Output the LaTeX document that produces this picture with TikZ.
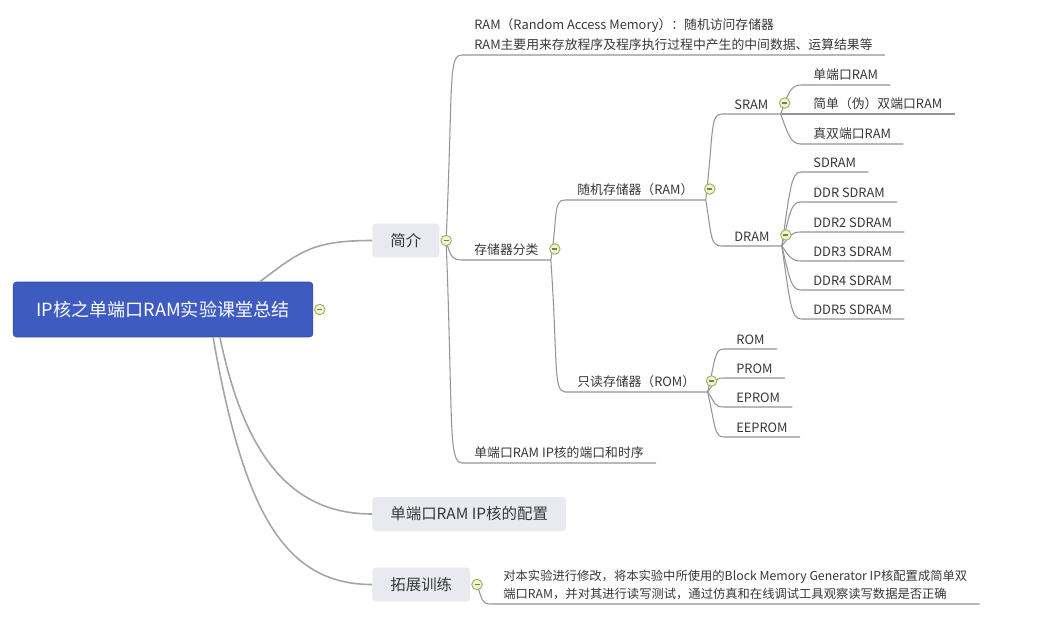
\documentclass[tikz,border=0pt]{standalone}
\usepackage{fontspec}
\setmainfont{Noto Sans CJK SC}
\usetikzlibrary{positioning}

\definecolor{rootblue}{HTML}{3D5BC0}
\definecolor{boxgray}{HTML}{E8EAF0}
\definecolor{linegray}{HTML}{959595}
\definecolor{textgray}{HTML}{383838}
\definecolor{foldline}{HTML}{9EAE55}
\definecolor{foldfill}{HTML}{EEF3D6}

\begin{document}
\begin{tikzpicture}[x=0.02cm, y=-0.02cm,
            root/.style = {rectangle, rounded corners=2pt,
                fill=rootblue, draw=rootblue!85!black, line width=0.3pt,
                text=white, minimum width=6cm, minimum height=1.1cm,
                font=\fontsize{10.3}{12}\selectfont},
            topic/.style = {rectangle, rounded corners=2pt,
                fill=boxgray, text=textgray, anchor=west,
                minimum height=0.68cm, inner xsep=0.36cm,
                font=\fontsize{8.8}{10}\selectfont},
            leaf/.style = {anchor=south west, inner xsep=0.24cm,
                inner ysep=0.08cm, text=textgray, align=left,
                font=\fontsize{7.3}{11.3}\selectfont},
            branch/.style = {draw=linegray, line width=0.6pt},
            stem/.style = {draw=linegray!85, line width=0.9pt},
            fold/.style = {circle, draw=foldline, fill=foldfill,
                line width=0.5pt, minimum size=0.21cm, inner sep=0pt,
                path picture={\draw[foldline!75!black, line width=0.6pt]
                    ([xshift=-1.4pt]path picture bounding box.center) --
                    ([xshift=1.4pt]path picture bounding box.center);}}]
        
        % Background
        \fill[white] (0,0) rectangle (1048,622);
        \useasboundingbox (0,0) rectangle (1048,622);
        
        % Root and topics
        \node[root] (root) at (163,309.5) {IP核之单端口RAM实验课堂总结};
        \node[topic] (intro) at (372,240.5) {简介};
        \node[topic] (config) at (372,514) {单端口RAM IP核的配置};
        \node[topic] (train) at (372,584.5) {拓展训练};
        
        % Intro branch
        \node[leaf] (ramdesc) at (462,55) {RAM（Random Access Memory）：随机访问存储器\\RAM主要用来存放程序及程序执行过程中产生的中间数据、运算结果等};
        \node[leaf] (memcls) at (462,260) {存储器分类};
        \node[leaf] (portdoc) at (462,463) {单端口RAM IP核的端口和时序};
        
        % Memory classes
        \node[leaf] (ramcls) at (565,200) {随机存储器（RAM）};
        \node[leaf] (romcls) at (565,392) {只读存储器（ROM）};
        \node[leaf] (sram) at (722,114) {SRAM};
        \node[leaf] (dram) at (722,246) {DRAM};
        
        % SRAM kinds
        \node[leaf] (sp) at (801,85) {单端口RAM};
        \node[leaf] (sdp) at (801,114) {简单（伪）双端口RAM};
        \node[leaf] (tdp) at (801,144) {真双端口RAM};
        
        % DRAM kinds
        \node[leaf] (sdram) at (801,172) {SDRAM};
        \node[leaf] (ddr) at (801,202) {DDR SDRAM};
        \node[leaf] (ddrtwo) at (801,232) {DDR2 SDRAM};
        \node[leaf] (ddrthree) at (801,261) {DDR3 SDRAM};
        \node[leaf] (ddrfour) at (801,290) {DDR4 SDRAM};
        \node[leaf] (ddrfive) at (801,319) {DDR5 SDRAM};
        
        % ROM kinds
        \node[leaf] (rom) at (724,349) {ROM};
        \node[leaf] (prom) at (724,378) {PROM};
        \node[leaf] (eprom) at (724,407) {EPROM};
        \node[leaf] (eeprom) at (724,437) {EEPROM};
        
        % Training task
        \node[leaf, font=\fontsize{7}{10.2}\selectfont] (traindesc) at (491,604) {对本实验进行修改，将本实验中所使用的Block Memory Generator IP核配置成简单双\\端口RAM，并对其进行读写测试，通过仿真和在线调试工具观察读写数据是否正确};
        
        % Fold points
        \coordinate[right=0.13cm of root] (f-root);
        \coordinate[right=0.13cm of intro] (f-intro);
        \coordinate[right=0.13cm of train] (f-train);
        
        % Root connectors
        \draw[stem] (root.16) .. controls +(40,-30) and +(-60,0) .. (intro.west);
        \draw[stem] (root.-26) .. controls +(25,120) and +(-80,0) .. (config.west);
        \draw[stem] (root.-29) .. controls +(30,170) and +(-90,0) .. (train.west);
        
        % Intro connectors
        \draw[branch] (f-intro) .. controls +(7,-160) and +(-14,0) .. (ramdesc.south west) -- (ramdesc.south east);
        \draw[branch] (f-intro) .. controls +(4,15) and +(-10,0) .. (memcls.south west) -- (memcls.south east);
        \draw[branch] (f-intro) .. controls +(7,180) and +(-14,0) .. (portdoc.south west) -- (portdoc.south east);
        
        % Memory class connectors
        \draw[branch] (memcls.south east) .. controls +(7,-45) and +(-12,0) .. (ramcls.south west) -- (ramcls.south east);
        \draw[branch] (memcls.south east) .. controls +(7,100) and +(-12,0) .. (romcls.south west) -- (romcls.south east);
        \draw[branch] (ramcls.south east) .. controls +(8,-70) and +(-12,0) .. (sram.south west) -- (sram.south east);
        \draw[branch] (ramcls.south east) .. controls +(6,36) and +(-12,0) .. (dram.south west) -- (dram.south east);
        
        % SRAM connectors
        \draw[branch] (sram.south east) .. controls +(8,-22) and +(-10,0) .. (sp.south west) -- (sp.south east);
        \draw[branch] (sram.south east) -- (sdp.south west) -- (sdp.south east);
        \draw[branch] (sram.south east) .. controls +(8,22) and +(-10,0) .. (tdp.south west) -- (tdp.south east);
        
        % DRAM connectors
        \draw[branch] (dram.south east) .. controls +(8,-55) and +(-10,0) .. (sdram.south west) -- (sdram.south east);
        \draw[branch] (dram.south east) .. controls +(8,-33) and +(-10,0) .. (ddr.south west) -- (ddr.south east);
        \draw[branch] (dram.south east) .. controls +(8,-10) and +(-10,0) .. (ddrtwo.south west) -- (ddrtwo.south east);
        \draw[branch] (dram.south east) .. controls +(8,11) and +(-10,0) .. (ddrthree.south west) -- (ddrthree.south east);
        \draw[branch] (dram.south east) .. controls +(8,33) and +(-10,0) .. (ddrfour.south west) -- (ddrfour.south east);
        \draw[branch] (dram.south east) .. controls +(8,55) and +(-10,0) .. (ddrfive.south west) -- (ddrfive.south east);
        
        % ROM connectors
        \draw[branch] (romcls.south east) .. controls +(8,-32) and +(-10,0) .. (rom.south west) -- (rom.south east);
        \draw[branch] (romcls.south east) .. controls +(8,-10) and +(-10,0) .. (prom.south west) -- (prom.south east);
        \draw[branch] (romcls.south east) .. controls +(8,11) and +(-10,0) .. (eprom.south west) -- (eprom.south east);
        \draw[branch] (romcls.south east) .. controls +(8,34) and +(-10,0) .. (eeprom.south west) -- (eeprom.south east);
        
        % Training connector
        \draw[branch] (f-train) .. controls +(5,14) and +(-10,0) .. (traindesc.south west) -- (traindesc.south east);
        
        % Folds on top
        \node[fold] (fold-root) at (f-root) {};
        \node[fold] (fold-intro) at (f-intro) {};
        \node[fold] (fold-train) at (f-train) {};
        \node[fold] (fold-memcls) at ([shift={(4,-11)}]memcls.south east) {};
        \node[fold] (fold-ramcls) at ([shift={(4,-11)}]ramcls.south east) {};
        \node[fold] (fold-romcls) at ([shift={(4,-11)}]romcls.south east) {};
        \node[fold] (fold-sram) at ([shift={(4,-11)}]sram.south east) {};
        \node[fold] (fold-dram) at ([shift={(4,-11)}]dram.south east) {};
        
        \end{tikzpicture}
\end{document}
